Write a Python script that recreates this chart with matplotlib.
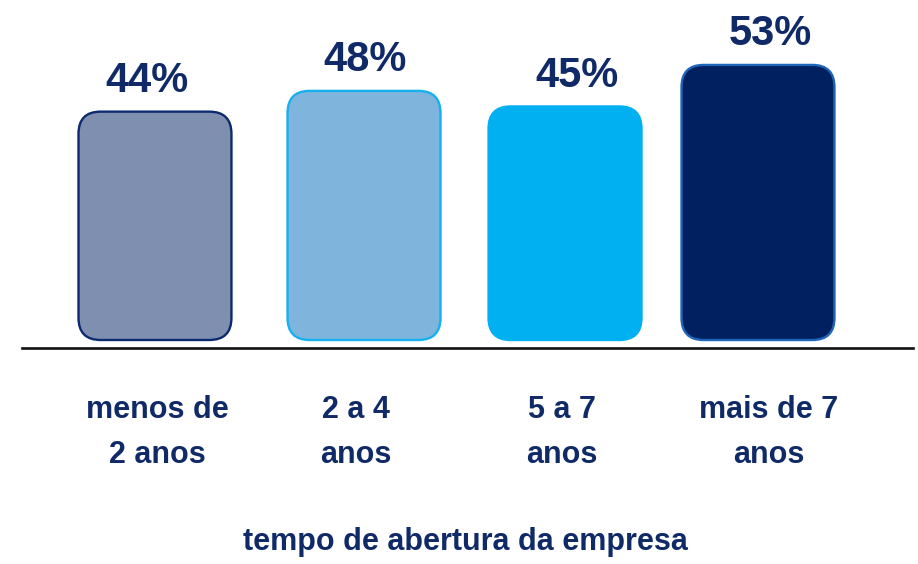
import matplotlib.pyplot as plt
from matplotlib.patches import FancyBboxPatch

# data
categories = ['menos de\n2 anos', '2 a 4\nanos', '5 a 7\nanos', 'mais de 7\nanos']
values = [44, 48, 45, 53]
value_labels = ['44%', '48%', '45%', '53%']
x_title = 'tempo de abertura da empresa'

# layout
bar_pos = [0, 1.04, 2.04, 3.0]
value_pos = [-0.042, 1.045, 2.10, 3.06]
label_pos = [0.01, 1.0, 2.025, 3.055]
fills = ['#7F8FAF', '#7FB4DD', '#00B0F0', '#002060']
edges = ['#0E2A6E', '#17B0EE', '#00B0F0', '#1F66B8']
navy = '#102A68'
font = ['Liberation Sans', 'DejaVu Sans']

fig = plt.figure(figsize=(9.18, 5.64), dpi=100)
ax = fig.add_axes([0, 0, 1, 1])
ax.set_xlim(-0.771, 3.796)
ax.set_ylim(-43.16, 65.51)
ax.axis('off')

bars = ax.bar(bar_pos, values, width=0.761, visible=False)

# rounded bars built from the bar rectangles
for rect, fc, ec in zip(bars, fills, edges):
    box = FancyBboxPatch((rect.get_x(), rect.get_y()), rect.get_width(), rect.get_height(),
                         boxstyle='round,pad=0,rounding_size=0.11',
                         mutation_aspect=38.9, facecolor=fc, edgecolor=ec,
                         linewidth=1.7, zorder=3)
    ax.add_patch(box)

for x, v, lab in zip(value_pos, values, value_labels):
    ax.annotate(lab, xy=(x, v), xytext=(0, 14), textcoords='offset points',
                ha='center', va='baseline', fontsize=30, fontweight='bold',
                color=navy, family=font)

# axis line
ax.plot([-0.662, 3.771], [-1.54, -1.54], color='#111111', linewidth=1.9, zorder=2)

for x, cat in zip(label_pos, categories):
    ax.text(x, -23.7, cat, ha='center', va='baseline', fontsize=22,
            fontweight='bold', color=navy, linespacing=1.65, family=font)

fig.text(0.5065, 0.0248, x_title, ha='center', va='baseline', fontsize=22,
         fontweight='bold', color=navy, family=font)

fig.savefig('out.png', dpi=100)
